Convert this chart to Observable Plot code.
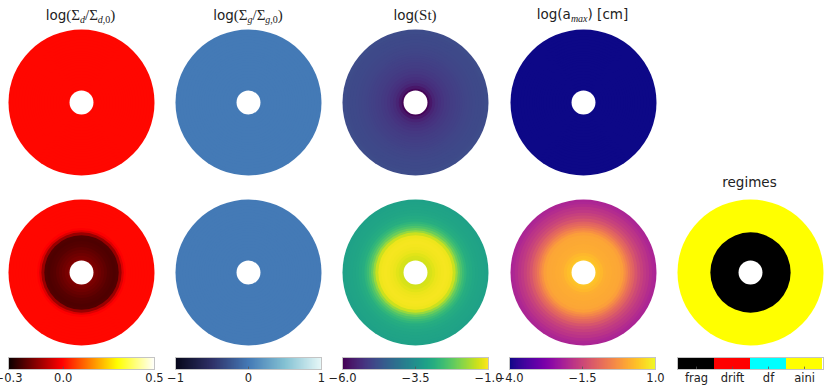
<!DOCTYPE html>
<html><head><meta charset="utf-8">
<script src="https://cdn.jsdelivr.net/npm/d3@7"></script>
<script src="https://cdn.jsdelivr.net/npm/@observablehq/plot@0.6"></script>
<style>
body{margin:0;background:#fff;}
#chart{position:relative;width:830px;height:389px;overflow:hidden;font-family:"DejaVu Sans",sans-serif;background:#fff;}
#chart svg{position:absolute;}
.title{position:absolute;font-size:13.5px;color:#222;white-space:nowrap;transform:translate(-50%,-50%);line-height:1;}
.m{font-family:"Liberation Serif",serif;font-size:15px;}
.title sub{font-size:10px;vertical-align:-0.3em;line-height:0;}
</style></head><body><div id="chart"></div>
<script>
// radial sample positions (r / r_out); each value fills the ring ending at that radius
const radii = [0.19,0.23,0.27,0.31,0.35,0.39,0.43,0.47,0.51,0.55,0.58,0.61,0.64,0.67,0.70,0.74,0.78,0.82,0.86,0.90,0.94,0.97,1.00];
const holeRadius = [0.164];

// log(Sigma_d / Sigma_d,0)
const sigmaDustTop    = [0,0,0,0,0,0,0,0,0,0,0,0,0,0,0,0,0,0,0,0,0,0,0];
const sigmaDustBottom = [-0.16,-0.17,-0.18,-0.19,-0.20,-0.21,-0.215,-0.22,-0.215,-0.13,-0.05,-0.01,0,0,0,0,0,0,0,0,0,0,0];
// log(Sigma_g / Sigma_g,0)
const sigmaGasTop     = [0,0,0,0,0,0,0,0,0,0,0,0,0,0,0,0,0,0,0,0,0,0,0];
const sigmaGasBottom  = [0,0,0,0,0,0,0,0,0,0,0,0,0,0,0,0,0,0,0,0,0,0,0];
// log(St)
const stokesTop    = [-5.95,-5.7,-5.5,-5.38,-5.3,-5.24,-5.19,-5.15,-5.12,-5.09,-5.06,-5.04,-5.02,-5.0,-4.98,-4.96,-4.94,-4.92,-4.9,-4.89,-4.87,-4.86,-4.85];
const stokesBottom = [-1.35,-1.3,-1.22,-1.15,-1.1,-1.08,-1.07,-1.08,-1.12,-1.4,-1.8,-2.15,-2.4,-2.6,-2.75,-2.88,-2.97,-3.02,-3.06,-3.08,-3.1,-3.12,-3.14];
// log(a_max) [cm]
const amaxTop    = [-4,-4,-4,-4,-4,-4,-4,-4,-4,-4,-4,-4,-4,-4,-4,-4,-4,-4,-4,-4,-4,-4,-4];
const amaxBottom = [0.4,0.3,0.2,0.12,0.08,0.05,0.03,0.02,0.0,-0.1,-0.3,-0.5,-0.7,-0.9,-1.05,-1.25,-1.45,-1.6,-1.75,-1.85,-1.95,-2.05,-2.1];
// regimes
const regimeNames  = ["frag","drift","df","aini"];
const regimeBottom = ["frag","frag","frag","frag","frag","frag","frag","frag","frag","frag","aini","aini","aini","aini","aini","aini","aini","aini","aini","aini","aini","aini","aini"];

// colour bar ticks
const sigmaDustTicks = [-0.3, 0.0, 0.5];
const sigmaGasTicks  = [-1, 0, 1];
const stokesTicks    = [-6.0, -3.5, -1.0];
const amaxTicks      = [-4.0, -1.5, 1.0];

const chart = document.getElementById("chart");
const R = 73;
const cx = [80.5, 248, 415, 582.5, 749.5];
const cyTop = 102, cyBot = 272;
const barX = [8, 175, 342, 509, 677], barW = 146, barY = 357, barH = 12;

const hotScale = {type: "linear", domain: [-0.3, -0.008, 0.2968, 0.5], range: ["#0b0000", "#ff0000", "#ffff00", "#ffffff"], interpolate: "rgb"};
const iceScale = {type: "linear", domain: [-1, -0.5, 0, 0.5, 1], range: ["#06071a", "#2f3168", "#447ab6", "#84c2d3", "#e8f8f8"], interpolate: "rgb"};
const virScale = {type: "linear", domain: [-6, -1], scheme: "viridis"};
const plaScale = {type: "linear", domain: [-4, 1], scheme: "plasma"};
const regScale = {type: "ordinal", domain: regimeNames, range: ["#000000", "#ff0000", "#00ffff", "#ffff00"]};

function place(el, left, top) {
  el.style.left = left + "px"; el.style.top = top + "px";
  chart.appendChild(el);
}

function disk(values, color, x, y) {
  const rings = radii.map((r, i) => ({r, v: values[i]}));
  const svg = Plot.plot({
    width: 150, height: 150, margin: 0,
    r: {type: "linear", domain: [0, 1], range: [0, R]},
    color,
    marks: [
      Plot.dot(rings, {r: "r", fill: "v", frameAnchor: "middle", sort: (d) => -d.r}),
      Plot.dot(holeRadius, {r: (d) => d, fill: "white", frameAnchor: "middle"})
    ]
  });
  place(svg, x - 75, y - 75);
}

function colorbar(ticks, color, fmt, x) {
  const d0 = ticks[0], d1 = ticks[ticks.length - 1];
  const svg = Plot.plot({
    width: barW + 30, height: barH + 22, marginLeft: 15, marginRight: 15, marginTop: 1, marginBottom: 21,
    style: {fontFamily: "DejaVu Sans", fontSize: "11px", color: "#222"},
    x: {domain: [d0, d1], label: null},
    y: {domain: [0, 1], axis: null},
    color,
    marks: [
      Plot.raster({x1: d0, x2: d1, y1: 0, y2: 1, width: 200, height: 1, fill: (a, b) => a, imageRendering: "auto"}),
      Plot.ruleX(ticks, {y1: 0, y2: 0.2, stroke: "#555", strokeWidth: 0.8}),
      Plot.frame({stroke: "#c4c4c4"}),
      Plot.axisX(ticks, {tickSize: 0, tickPadding: 4, tickFormat: fmt, fill: "#222", fontSize: 11.5})
    ]
  });
  place(svg, x - 15, barY - 1);
}

function regimeBar(x) {
  const svg = Plot.plot({
    width: barW + 30, height: barH + 22, marginLeft: 15, marginRight: 15, marginTop: 1, marginBottom: 21,
    style: {fontFamily: "DejaVu Sans", fontSize: "11px", color: "#222"},
    x: {type: "band", domain: regimeNames, padding: 0, label: null},
    y: {domain: [0, 1], axis: null},
    color: regScale,
    marks: [
      Plot.cell(regimeNames, {x: (d) => d, fill: (d) => d}),
      Plot.ruleX(regimeNames, {x: (d) => d, y1: 0, y2: 0.2, stroke: "#555", strokeWidth: 0.8}),
      Plot.frame({stroke: "#c4c4c4"}),
      Plot.axisX({tickSize: 0, tickPadding: 4, fill: "#222", fontSize: 11.5})
    ]
  });
  place(svg, x - 15, barY - 1);
}

function title(html, x, y) {
  const d = document.createElement("div");
  d.className = "title";
  d.innerHTML = html;
  d.style.left = x + "px"; d.style.top = y + "px";
  chart.appendChild(d);
}

disk(sigmaDustTop, hotScale, cx[0], cyTop);
disk(sigmaGasTop, iceScale, cx[1], cyTop);
disk(stokesTop, virScale, cx[2], cyTop);
disk(amaxTop, plaScale, cx[3], cyTop);

disk(sigmaDustBottom, hotScale, cx[0], cyBot);
disk(sigmaGasBottom, iceScale, cx[1], cyBot);
disk(stokesBottom, virScale, cx[2], cyBot);
disk(amaxBottom, plaScale, cx[3], cyBot);
disk(regimeBottom, regScale, cx[4], cyBot);

colorbar(sigmaDustTicks, hotScale, d3.format(".1f"), barX[0]);
colorbar(sigmaGasTicks, iceScale, d3.format("d"), barX[1]);
colorbar(stokesTicks, virScale, d3.format(".1f"), barX[2]);
colorbar(amaxTicks, plaScale, d3.format(".1f"), barX[3]);
regimeBar(barX[4]);

title('log<span class="m">(Σ<sub><i>d</i></sub>/Σ<sub><i>d</i>,0</sub>)</span>', cx[0], 15);
title('log<span class="m">(Σ<sub><i>g</i></sub>/Σ<sub><i>g</i>,0</sub>)</span>', cx[1], 15);
title('log<span class="m">(St)</span>', cx[2], 15);
title('log(a<sub class="m"><i>max</i></sub>) [cm]', cx[3], 15);
title('regimes', cx[4], 183);
</script></body></html>
